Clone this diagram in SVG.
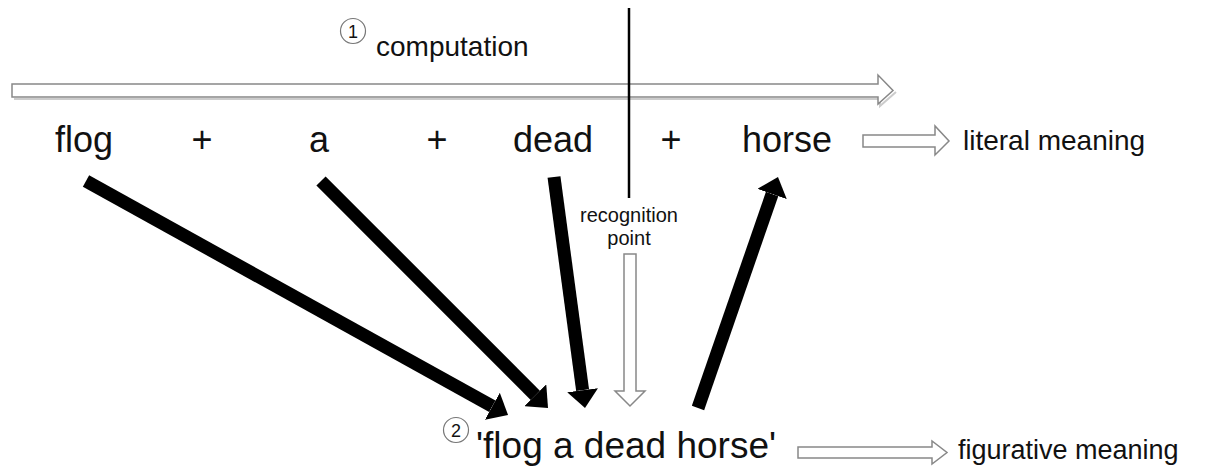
<svg xmlns="http://www.w3.org/2000/svg" width="1210" height="469" viewBox="0 0 1210 469">
<style>
  text { font-family: "Liberation Sans", Arial, sans-serif; fill: #111; }
  .word { font-size: 36px; }
  .label { font-size: 28px; }
  .small { font-size: 20px; text-anchor: middle; }
  .num { font-size: 18px; text-anchor: middle; }
  .circ { fill: #fff; stroke: #777; stroke-width: 1.2; }
  .hollow { fill: #fff; stroke: #888; stroke-width: 1.5; stroke-linejoin: miter; }
  .shadow { fill: none; stroke: #ccc; stroke-width: 2; }
  .thick { stroke: #000; stroke-width: 13; fill: none; marker-end: url(#head); }
</style>
<defs>
  <marker id="head" markerUnits="userSpaceOnUse" viewBox="0 0 18 31" refX="0" refY="15.5" markerWidth="18" markerHeight="31" orient="auto">
    <path d="M0,0 L18,15.5 L0,31 Z" fill="#000"/>
  </marker>
</defs>

<g id="connectors">
  <path class="shadow" d="M14,99 L880,99 L880,106 L896,92"/>
  <path id="computation-arrow" class="hollow" d="M12,84 L878,84 L878,75 L893,90.5 L878,104 L878,97 L12,97 Z"/>
  <line id="recognition-line" x1="629" y1="8" x2="629" y2="198" stroke="#000" stroke-width="2.5"/>
  <path id="recognition-arrow" class="hollow" d="M624,254 L636,254 L636,391 L645,391 L630,406 L615,391 L624,391 Z"/>
  <path id="literal-arrow" class="hollow" d="M863,135 L935,135 L935,126 L949,141 L935,155 L935,147 L863,147 Z"/>
  <path id="figurative-arrow" class="hollow" d="M798,447 L932,447 L932,441 L947,452.5 L932,464 L932,458 L798,458 Z"/>
  <line id="flog-to-idiom" class="thick" x1="86" y1="181" x2="492.3" y2="406.3"/>
  <line id="a-to-idiom" class="thick" x1="321" y1="181" x2="535.3" y2="395.3"/>
  <line id="dead-to-idiom" class="thick" x1="554" y1="177" x2="582.6" y2="390.2"/>
  <line id="idiom-to-horse" class="thick" x1="698" y1="408" x2="772.1" y2="194.0"/>
</g>

<g id="computation">
  <circle class="circ" cx="353" cy="31" r="12.5"/>
  <text class="num" x="353" y="37.5">1</text>
  <text class="label" x="376" y="56">computation</text>
</g>

<g id="word-flog"><text class="word" x="55" y="152">flog</text></g>
<g id="plus-1"><text class="word" x="202" y="152" text-anchor="middle">+</text></g>
<g id="word-a"><text class="word" x="309" y="152">a</text></g>
<g id="plus-2"><text class="word" x="437" y="152" text-anchor="middle">+</text></g>
<g id="word-dead"><text class="word" x="513" y="152">dead</text></g>
<g id="plus-3"><text class="word" x="671" y="152" text-anchor="middle">+</text></g>
<g id="word-horse"><text class="word" x="742" y="152">horse</text></g>

<g id="literal-meaning"><text class="label" x="963" y="150">literal meaning</text></g>

<g id="recognition-point">
  <text class="small" x="629" y="222">recognition</text>
  <text class="small" x="629" y="245">point</text>
</g>

<g id="idiom">
  <circle class="circ" cx="456" cy="430" r="12.5"/>
  <text class="num" x="456" y="436.5">2</text>
  <text x="476" y="458" style="font-size:37px">'flog a dead horse'</text>
</g>

<g id="figurative-meaning"><text x="958" y="459" style="font-size:27px">figurative meaning</text></g>
</svg>
